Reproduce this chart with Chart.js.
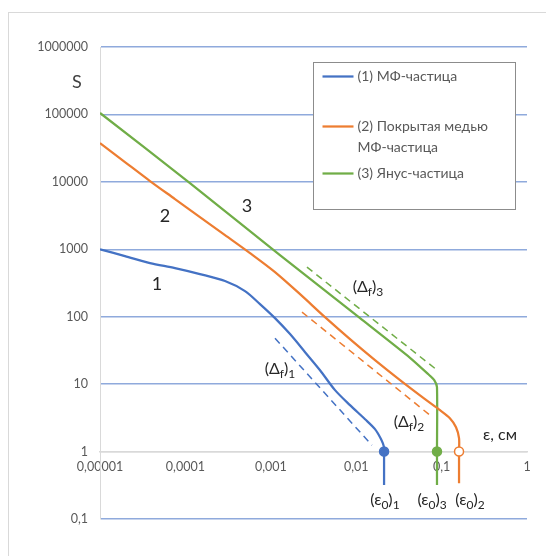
<!DOCTYPE html>
<html><head><meta charset="utf-8">
<script src="https://cdn.jsdelivr.net/npm/chart.js@4.4.1/dist/chart.umd.min.js"></script>
<style>html,body{margin:0;padding:0;background:#fff;} #wrap{position:relative;width:546px;height:556px;} canvas{display:block;}</style>
</head><body><div id="wrap"><canvas id="c" width="546" height="556"></canvas></div>
<script>
// ---- data ----
const seriesNames = ['(1) МФ-частица', '(2) Покрытая медью МФ-частица', '(3) Янус-частица'];
const blueX = [0.00001, 0.0000196, 0.0000385, 0.0000755, 0.000148, 0.000291, 0.000499, 0.000747, 0.00112, 0.00168, 0.00252, 0.00377, 0.00565, 0.00846, 0.0127, 0.0166, 0.0195, 0.0212, 0.0212, 0.0212];
const blueY = [1000, 793, 624, 526, 429, 338, 240, 154, 95.3, 55.2, 29.8, 16.1, 8.15, 4.88, 3.02, 2.15, 1.53, 1.16, 1, 0.32];
const orangeX = [0.00001, 0.0000196, 0.0000385, 0.0000755, 0.000148, 0.000291, 0.000571, 0.00112, 0.0022, 0.00431, 0.00846, 0.0166, 0.0326, 0.0639, 0.0958, 0.125, 0.1475, 0.16, 0.16, 0.16];
const orangeY = [37650, 19670, 10280, 5558, 3004, 1624, 878, 459, 216, 98.6, 46.5, 22.7, 11.47, 5.99, 4.11, 3.13, 2.30, 1.58, 1, 0.34];
const greenX = [0.00001, 0.000113, 0.00128, 0.0111, 0.0427, 0.07, 0.082, 0.0883, 0.0883, 0.0883];
const greenY = [105000, 9600, 820, 95, 24.6, 14, 11.5, 9, 1, 0.32];
const blueDashX = [0.00112, 0.0153];   const blueDashY = [48, 1.24];
const orangeDashX = [0.00232, 0.073];  const orangeDashY = [117, 3.47];
const greenDashX = [0.00265, 0.0883];  const greenDashY = [544, 16.2];
const xTickValues = [0.00001, 0.0001, 0.001, 0.01, 0.1, 1];
const xTickLabels = ['0,00001', '0,0001', '0,001', '0,01', '0,1', '1'];
const yTickValues = [0.1, 1, 10, 100, 1000, 10000, 100000, 1000000];
const yTickLabels = ['0,1', '1', '10', '100', '1000', '10000', '100000', '1000000'];
// annotations: text parts, anchor in data coords
const annotations = [
  {parts: [['1']], x: 0.0000464, y: 305, size: 18},
  {parts: [['2']], x: 0.0000577, y: 3110, size: 18},
  {parts: [['3']], x: 0.000526, y: 4375, size: 18},
  {parts: [['(Δ'], ['f', 1], [')'], ['3', 1]], x: 0.01374, y: 275, size: 16},
  {parts: [['(Δ'], ['f', 1], [')'], ['1', 1]], x: 0.00128, y: 16.7, size: 16},
  {parts: [['(Δ'], ['f', 1], [')'], ['2', 1]], x: 0.0415, y: 2.73, size: 16},
  {parts: [['ε, см']], x: 0.483, y: 1.75, size: 16},
  {parts: [['(ε'], ['0', 1], [')'], ['1', 1]], x: 0.0217, y: 0.19, size: 16},
  {parts: [['(ε'], ['0', 1], [')'], ['3', 1]], x: 0.0773, y: 0.19, size: 16},
  {parts: [['(ε'], ['0', 1], [')'], ['2', 1]], x: 0.215, y: 0.19, size: 16}
];
const yAxisTitle = 'S';

// ---- styles ----
const C_BLUE = '#4472C4', C_ORANGE = '#ED7D31', C_GREEN = '#70AD47';
const FONT = 'Lato, "Open Sans", sans-serif';
const toPts = (xs, ys) => xs.map((x, i) => ({x: x, y: ys[i]}));
const markerRadii = ys => ys.map(v => v === 1 ? 4.5 : 0);

const mainSet = (label, xs, ys, color, fill, tension) => ({
  label: label, data: toPts(xs, ys), borderColor: color, backgroundColor: color,
  borderWidth: 2.25, tension: tension, showLine: true, borderJoinStyle: 'round',
  pointRadius: markerRadii(ys), pointHoverRadius: markerRadii(ys),
  pointBackgroundColor: fill, pointBorderColor: color, pointBorderWidth: 1.5
});
const dashSet = (xs, ys, color) => ({
  label: '', data: toPts(xs, ys), borderColor: color, borderWidth: 1.5,
  borderDash: [7, 5], pointRadius: 0, showLine: true, tension: 0
});

const decorPlugin = {
  id: 'decor',
  beforeDraw(chart) {
    const ctx = chart.ctx;
    ctx.save();
    ctx.fillStyle = '#fff';
    ctx.fillRect(0, 0, chart.width, chart.height);
    ctx.strokeStyle = '#d9d9d9';
    ctx.lineWidth = 1;
    ctx.strokeRect(8.5, 12.5, chart.width + 20, chart.height + 20);
    ctx.restore();
  },
  afterDraw(chart) {
    const ctx = chart.ctx, xs = chart.scales.x, ys = chart.scales.y, ca = chart.chartArea;
    ctx.save();
    // axis title S
    ctx.fillStyle = '#404040';
    ctx.font = '18px ' + FONT;
    ctx.textAlign = 'center'; ctx.textBaseline = 'middle';
    ctx.fillText(yAxisTitle, ca.left - 23, ys.getPixelForValue(300000));
    // annotations
    ctx.fillStyle = '#262626';
    annotations.forEach(a => {
      const big = a.size + 'px ' + FONT, small = Math.round(a.size * 0.72) + 'px ' + FONT;
      let w = 0;
      a.parts.forEach(p => { ctx.font = p[1] ? small : big; w += ctx.measureText(p[0]).width; });
      let x = xs.getPixelForValue(a.x) - w / 2;
      const y = ys.getPixelForValue(a.y);
      ctx.textAlign = 'left'; ctx.textBaseline = 'middle';
      a.parts.forEach(p => {
        ctx.font = p[1] ? small : big;
        ctx.fillText(p[0], x, p[1] ? y + a.size * 0.3 : y);
        x += ctx.measureText(p[0]).width;
      });
    });
    // legend box
    const bx = ca.left + 213.5, by = ca.top + 15.5, bw = 202, bh = 147;
    ctx.fillStyle = '#fff';
    ctx.fillRect(bx, by, bw, bh);
    ctx.strokeStyle = '#8c8c8c'; ctx.lineWidth = 1;
    ctx.strokeRect(bx, by, bw, bh);
    const entries = [
      {ds: 0, lines: [seriesNames[0]], y: by + 14},
      {ds: 1, lines: ['(2) Покрытая медью', 'МФ-частица'], y: by + 64},
      {ds: 2, lines: [seriesNames[2]], y: by + 111}
    ];
    ctx.font = '14px ' + FONT;
    ctx.textAlign = 'left'; ctx.textBaseline = 'middle';
    entries.forEach(e => {
      const col = chart.data.datasets[e.ds].borderColor;
      ctx.strokeStyle = col; ctx.lineWidth = 2.25;
      ctx.beginPath(); ctx.moveTo(bx + 9, e.y); ctx.lineTo(bx + 40, e.y); ctx.stroke();
      ctx.fillStyle = '#595959';
      e.lines.forEach((t, i) => ctx.fillText(t, bx + 44, e.y + i * 21));
    });
    ctx.restore();
  }
};

new Chart(document.getElementById('c'), {
  type: 'line',
  data: {
    datasets: [
      mainSet(seriesNames[0], blueX, blueY, C_BLUE, C_BLUE, 0.3),
      mainSet(seriesNames[1], orangeX, orangeY, C_ORANGE, '#ffffff', 0.3),
      mainSet(seriesNames[2], greenX, greenY, C_GREEN, C_GREEN, 0.2),
      dashSet(blueDashX, blueDashY, C_BLUE),
      dashSet(orangeDashX, orangeDashY, C_ORANGE),
      dashSet(greenDashX, greenDashY, C_GREEN)
    ]
  },
  options: {
    responsive: false, animation: false, devicePixelRatio: 1,
    layout: {padding: {top: 47, right: 19, bottom: 37, left: 0}},
    plugins: {legend: {display: false}, tooltip: {enabled: false}},
    scales: {
      x: {
        type: 'logarithmic', min: 0.00001, max: 1, position: {y: 1},
        afterBuildTicks: s => { s.ticks = xTickValues.map(v => ({value: v})); },
        ticks: {
          autoSkip: false, maxRotation: 0, padding: 8, color: '#595959',
          font: {family: FONT, size: 12.5},
          callback: v => xTickLabels[xTickValues.findIndex(t => Math.abs(Math.log10(t) - Math.log10(v)) < 1e-6)]
        },
        grid: {display: false, drawTicks: false},
        border: {display: true, color: '#d9d9d9', width: 1.5}
      },
      y: {
        type: 'logarithmic', min: 0.1, max: 1000000, position: 'left',
        afterFit: s => { s.width = 100; },
        afterBuildTicks: s => { s.ticks = yTickValues.map(v => ({value: v})); },
        ticks: {
          autoSkip: false, padding: 12, color: '#595959',
          font: {family: FONT, size: 12.5},
          callback: v => yTickLabels[yTickValues.findIndex(t => Math.abs(Math.log10(t) - Math.log10(v)) < 1e-6)]
        },
        grid: {
          drawTicks: false, lineWidth: 1.5,
          color: c => (c.tick && Math.abs(c.tick.value - 1) < 1e-9) ? '#d9d9d9' : '#8faadc'
        },
        border: {display: true, color: '#d9d9d9', width: 1}
      }
    }
  },
  plugins: [decorPlugin]
});
</script></body></html>
